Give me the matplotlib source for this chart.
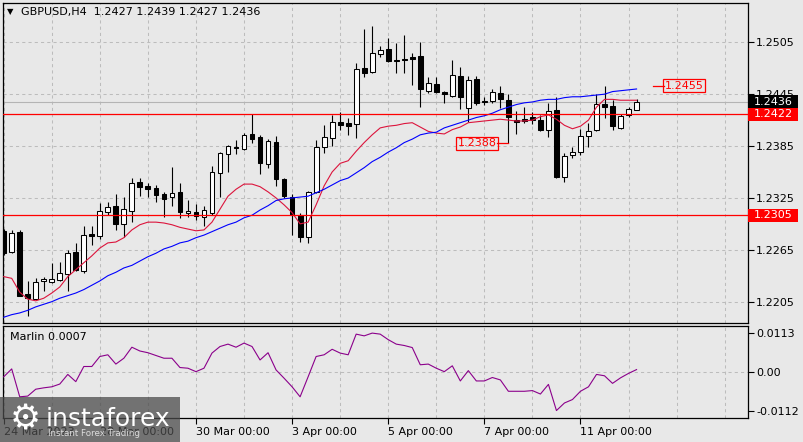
import matplotlib.pyplot as plt
from matplotlib.patches import Rectangle

# GBPUSD H4 candles, 24 Mar 2023 00:00 .. 12 Apr 2023 04:00
opens = [1.2287, 1.2263, 1.2286, 1.2214, 1.2208, 1.2229, 1.2228, 1.2230, 1.2237, 1.2263,
         1.2241, 1.2283, 1.2281, 1.2309, 1.2316, 1.2295, 1.2310, 1.2343, 1.2339, 1.2337,
         1.2330, 1.2326, 1.2332, 1.2308, 1.2309, 1.2303, 1.2308, 1.2354, 1.2376, 1.2384,
         1.2382, 1.2399, 1.2396, 1.2364, 1.2390, 1.2347, 1.2326, 1.2305, 1.2280, 1.2332,
         1.2384, 1.2394, 1.2413, 1.2412, 1.2411, 1.2475, 1.2471, 1.2492, 1.2497, 1.2485,
         1.2486, 1.2488, 1.2489, 1.2449, 1.2457, 1.2448, 1.2443, 1.2466, 1.2429, 1.2463,
         1.2437, 1.2437, 1.2446, 1.2438, 1.2415, 1.2416, 1.2419, 1.2415, 1.2404, 1.2427,
         1.2349, 1.2375, 1.2378, 1.2397, 1.2404, 1.2434, 1.2431, 1.2406, 1.2421, 1.2427]
highs = [1.2289, 1.2288, 1.2288, 1.2229, 1.2232, 1.2234, 1.2250, 1.2251, 1.2265, 1.2273,
         1.2293, 1.2293, 1.2319, 1.2320, 1.2330, 1.2326, 1.2348, 1.2348, 1.2342, 1.2340,
         1.2332, 1.2361, 1.2342, 1.2323, 1.2318, 1.2316, 1.2362, 1.2378, 1.2386, 1.2392,
         1.2400, 1.2422, 1.2398, 1.2393, 1.2397, 1.2348, 1.2330, 1.2308, 1.2333, 1.2392,
         1.2409, 1.2421, 1.2424, 1.2418, 1.2481, 1.2520, 1.2524, 1.2501, 1.2510, 1.2504,
         1.2513, 1.2493, 1.2505, 1.2465, 1.2465, 1.2449, 1.2485, 1.2476, 1.2466, 1.2466,
         1.2442, 1.2451, 1.2455, 1.2445, 1.2426, 1.2430, 1.2424, 1.2421, 1.2435, 1.2442,
         1.2377, 1.2384, 1.2405, 1.2412, 1.2445, 1.2455, 1.2438, 1.2422, 1.2430, 1.2439]
lows = [1.2259, 1.2261, 1.2211, 1.2189, 1.2207, 1.2217, 1.2227, 1.2229, 1.2217, 1.2241,
        1.2238, 1.2271, 1.2278, 1.2305, 1.2288, 1.2280, 1.2297, 1.2327, 1.2326, 1.2320,
        1.2303, 1.2316, 1.2302, 1.2303, 1.2300, 1.2293, 1.2305, 1.2326, 1.2355, 1.2376,
        1.2380, 1.2389, 1.2353, 1.2360, 1.2339, 1.2325, 1.2282, 1.2274, 1.2273, 1.2331,
        1.2377, 1.2385, 1.2404, 1.2398, 1.2394, 1.2465, 1.2470, 1.2488, 1.2482, 1.2470,
        1.2470, 1.2456, 1.2430, 1.2446, 1.2446, 1.2435, 1.2442, 1.2428, 1.2413, 1.2433,
        1.2433, 1.2435, 1.2429, 1.2388, 1.2399, 1.2412, 1.2411, 1.2402, 1.2396, 1.2348,
        1.2343, 1.2371, 1.2375, 1.2384, 1.2402, 1.2418, 1.2404, 1.2405, 1.2419, 1.2427]
closes = [1.2261, 1.2285, 1.2212, 1.2209, 1.2228, 1.2231, 1.2231, 1.2238, 1.2261, 1.2242,
          1.2282, 1.2281, 1.2310, 1.2315, 1.2295, 1.2312, 1.2342, 1.2338, 1.2335, 1.2328,
          1.2324, 1.2331, 1.2309, 1.2310, 1.2304, 1.2311, 1.2355, 1.2377, 1.2385, 1.2383,
          1.2398, 1.2393, 1.2365, 1.2391, 1.2347, 1.2327, 1.2305, 1.2280, 1.2332, 1.2384,
          1.2396, 1.2413, 1.2409, 1.2408, 1.2474, 1.2470, 1.2493, 1.2496, 1.2483, 1.2483,
          1.2485, 1.2486, 1.2451, 1.2458, 1.2448, 1.2445, 1.2467, 1.2442, 1.2461, 1.2435,
          1.2436, 1.2448, 1.2439, 1.2419, 1.2413, 1.2414, 1.2415, 1.2404, 1.2426, 1.2349,
          1.2374, 1.2378, 1.2397, 1.2402, 1.2434, 1.2430, 1.2408, 1.2420, 1.2428, 1.2436]

# moving averages as seen on the chart
ma_red = [1.2234, 1.2232, 1.2216, 1.2208, 1.2206, 1.2209, 1.2215, 1.2222, 1.2234, 1.2242,
          1.2250, 1.2258, 1.2267, 1.2273, 1.2274, 1.2279, 1.2288, 1.2294, 1.2297, 1.2297,
          1.2296, 1.2294, 1.2291, 1.2289, 1.2287, 1.2288, 1.2297, 1.2312, 1.2327, 1.2335,
          1.2341, 1.2341, 1.2338, 1.2332, 1.2325, 1.2317, 1.2308, 1.2295, 1.2297, 1.2317,
          1.2339, 1.2355, 1.2365, 1.2368, 1.2379, 1.2389, 1.2398, 1.2406, 1.2408, 1.2409,
          1.2411, 1.2412, 1.2407, 1.2402, 1.2400, 1.2399, 1.2404, 1.2407, 1.2412, 1.2413,
          1.2414, 1.2415, 1.2416, 1.2415, 1.2414, 1.2414, 1.2415, 1.2419, 1.2421, 1.2416,
          1.2409, 1.2405, 1.2408, 1.2415, 1.2430, 1.2439, 1.2439, 1.2438, 1.2438, 1.2438]
ma_blue = [1.2187, 1.2190, 1.2192, 1.2195, 1.2199, 1.2202, 1.2205, 1.2209, 1.2212, 1.2215,
           1.2219, 1.2224, 1.2229, 1.2235, 1.2239, 1.2244, 1.2247, 1.2252, 1.2257, 1.2261,
           1.2266, 1.2269, 1.2273, 1.2275, 1.2279, 1.2282, 1.2286, 1.2290, 1.2294, 1.2297,
           1.2302, 1.2305, 1.2311, 1.2316, 1.2322, 1.2324, 1.2325, 1.2326, 1.2327, 1.2331,
           1.2335, 1.2340, 1.2345, 1.2348, 1.2354, 1.2360, 1.2367, 1.2372, 1.2378, 1.2383,
           1.2389, 1.2393, 1.2398, 1.2400, 1.2401, 1.2406, 1.2409, 1.2412, 1.2415, 1.2418,
           1.2420, 1.2423, 1.2427, 1.2430, 1.2433, 1.2435, 1.2436, 1.2438, 1.2439, 1.2439,
           1.2441, 1.2442, 1.2442, 1.2443, 1.2444, 1.2445, 1.2448, 1.2449, 1.2450, 1.2451]

# Marlin oscillator
marlin = [-0.0014, 0.0009, -0.0072, -0.0070, -0.0050, -0.0046, -0.0043, -0.0035, -0.0007, -0.0028,
          0.0016, 0.0016, 0.0045, 0.0050, 0.0023, 0.0040, 0.0072, 0.0061, 0.0056, 0.0048,
          0.0040, 0.0040, 0.0013, 0.0011, 0.0001, 0.0011, 0.0055, 0.0074, 0.0081, 0.0072,
          0.0084, 0.0074, 0.0035, 0.0056, 0.0006, -0.0018, -0.0043, -0.0072, -0.0014, 0.0045,
          0.0050, 0.0066, 0.0055, 0.0050, 0.0110, 0.0105, 0.0113, 0.0110, 0.0094, 0.0081,
          0.0077, 0.0071, 0.0021, 0.0023, 0.0011, 0.0001, 0.0018, -0.0026, 0.0004, -0.0026,
          -0.0026, -0.0016, -0.0023, -0.0056, -0.0056, -0.0056, -0.0054, -0.0064, -0.0036, -0.0112,
          -0.0090, -0.0080, -0.0056, -0.0043, -0.0007, -0.0011, -0.0033, -0.0017, -0.0004, 0.0007]

price_ticks = [1.2505, 1.2445, 1.2385, 1.2325, 1.2265, 1.2205]
marlin_ticks = [0.0113, 0.0, -0.0112]
marlin_tick_labels = ['0.0113', '0.00', '-0.0112']
date_pos = [0, 12, 24, 36, 48, 60, 72]
date_labels = ['24 Mar 2023', '28 Mar 00:00', '30 Mar 00:00', '3 Apr 00:00',
               '5 Apr 00:00', '7 Apr 00:00', '11 Apr 00:00']
level_hi = 1.2422
level_lo = 1.2305
bid = 1.2436
mark_low = 1.2388   # low of bar 63
mark_high = 1.2455  # high of bar 75

bg = '#e8e8e8'
grid_c = '#bcbcbc'
plt.rcParams['font.family'] = 'DejaVu Sans'

fig = plt.figure(figsize=(8.04, 4.42), dpi=100, facecolor=bg)
ax = fig.add_axes([2.7 / 804, 1 - 323.3 / 442, 745 / 804, 320.6 / 442], facecolor=bg)
ax2 = fig.add_axes([2.7 / 804, 1 - 418.3 / 442, 745 / 804, 92.6 / 442], facecolor=bg)

n = len(opens)
xs = list(range(n))

# grid
for a in (ax, ax2):
    a.set_xlim(-0.125, 92.875)
    for g in range(0, 93, 6):
        a.axvline(g, color=grid_c, lw=0.75, ls=(0, (3, 3)), zorder=0)
    for s in a.spines.values():
        s.set_color('black')
        s.set_linewidth(0.9)

ax.set_ylim(1.2180, 1.25508)
for p in price_ticks:
    ax.axhline(p, color=grid_c, lw=0.75, ls=(0, (3, 3)), zorder=0)

# bid line and levels
ax.axhline(bid, color='#b4b4b4', lw=0.8, zorder=1)
ax.axhline(level_hi, color='#ff0000', lw=0.9, zorder=6)
ax.axhline(level_lo, color='#ff0000', lw=0.9, zorder=6)

# candles
ax.vlines(xs, lows, highs, color='black', lw=0.8, zorder=3)
bottoms = [min(o, c) for o, c in zip(opens, closes)]
heights = [abs(c - o) for o, c in zip(opens, closes)]
fills = ['white' if c >= o else 'black' for o, c in zip(opens, closes)]
ax.bar(xs, heights, bottom=bottoms, width=0.6, color=fills, edgecolor='black',
       linewidth=0.75, zorder=4)

# moving averages
ax.plot(xs, ma_red, color='#dc143c', lw=0.8, zorder=5)
ax.plot(xs, ma_blue, color='#0000ff', lw=0.8, zorder=5)

# price marks
ax.text(59.1, mark_low, '1.2388', color='#ff0000', fontsize=8, ha='center', va='center',
        bbox=dict(boxstyle='square,pad=0.15', fc='none', ec='#ff0000', lw=0.9), zorder=7)
ax.plot([61.6, 63], [mark_low, mark_low], color='#ff0000', lw=0.9, zorder=7)
ax.text(84.9, mark_high, '1.2455', color='#ff0000', fontsize=8, ha='center', va='center',
        bbox=dict(boxstyle='square,pad=0.15', fc='none', ec='#ff0000', lw=0.9), zorder=7)
ax.plot([81, 82.4], [mark_high, mark_high], color='#ff0000', lw=0.9, zorder=7)

# right price axis
ax.yaxis.tick_right()
ax.set_yticks(price_ticks)
ax.set_yticklabels([f'{p:.4f}' for p in price_ticks])
ax.tick_params(axis='y', direction='out', length=4, width=0.8, pad=2, labelsize=8)
ax.set_xticks([])

tr = ax.get_yaxis_transform()
box_h = 0.0015
for val, col in ((level_lo, '#ff0000'), (level_hi, '#ff0000'), (bid, '#000000')):
    ax.add_patch(Rectangle((1.001, val - box_h / 2), 0.0665, box_h, transform=tr,
                           facecolor=col, edgecolor='none', clip_on=False, zorder=20))
    ax.text(1.0085, val, f'{val:.4f}', transform=tr, color='white', fontsize=8,
            va='center', ha='left', clip_on=False, zorder=21)

# title
fig.text(7 / 804, 1 - 12 / 442, '\u25bc', fontsize=6, va='center', ha='left')
fig.text(21 / 804, 1 - 12 / 442, 'GBPUSD,H4  1.2427 1.2439 1.2427 1.2436',
         fontsize=8, va='center', ha='left')

# Marlin panel
ax2.set_ylim(-0.01345, 0.01345)
ax2.axhline(0, color=grid_c, lw=0.75, ls=(0, (3, 3)), zorder=0)
ax2.plot(xs, marlin, color='#8b008b', lw=0.8, zorder=3)
ax2.yaxis.tick_right()
ax2.set_yticks(marlin_ticks)
ax2.set_yticklabels(marlin_tick_labels)
ax2.tick_params(axis='y', direction='out', length=4, width=0.8, pad=2, labelsize=8)
ax2.set_xticks(date_pos)
ax2.set_xticklabels(date_labels)
ax2.tick_params(axis='x', direction='out', length=4, width=0.8, pad=2, labelsize=8)
for lab in ax2.get_xticklabels():
    lab.set_ha('left')
ax2.text(7 / 745, 1 - 11 / 92.6, 'Marlin 0.0007', transform=ax2.transAxes, fontsize=8,
         va='center', ha='left')

# watermark
fig.patches.append(Rectangle((0, 0), 180 / 804, 45 / 442, transform=fig.transFigure,
                             facecolor='#4a4a4a', alpha=0.75, edgecolor='none', zorder=30))
fig.text(25 / 804, 1 - 420 / 442, '\u2699', fontsize=25, color='white', ha='center',
         va='center', zorder=31)
fig.text(46 / 804, 1 - 426 / 442, 'instaforex', fontsize=18, color='white', ha='left',
         va='baseline', zorder=31)
fig.text(48 / 804, 1 - 434 / 442, 'Instant Forex Trading', fontsize=6.3, color='#dddddd',
         ha='left', va='center', zorder=31)

fig.savefig('out.png', dpi=100, facecolor=bg)
